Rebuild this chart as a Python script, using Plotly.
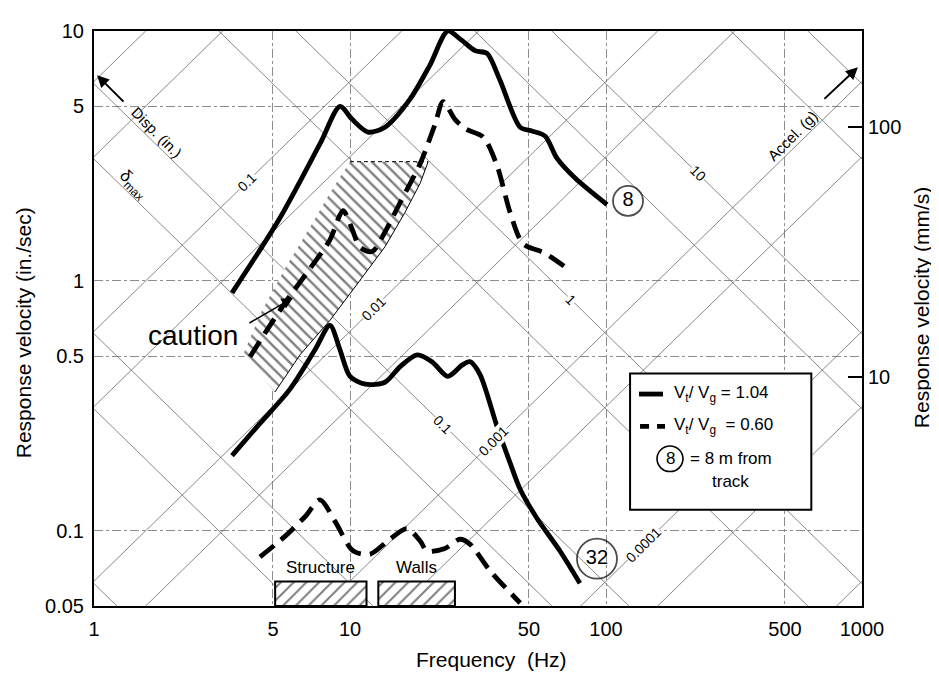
import numpy as np
import plotly.graph_objects as go

# ---------------- data ----------------
# Site 8 m from track, Vt/Vg = 1.04 (solid)
c8_solid_f = [3.46, 5.33, 7.64, 9.14, 10.2, 11.75, 13.7, 17.1, 20.5, 24.1, 26.9, 30.8, 34.3, 38.5, 46.2, 51.4, 57.8, 64.4, 75.7, 100.9]
c8_solid_v = [0.895, 1.79, 3.54, 4.99, 4.43, 3.94, 4.12, 5.31, 7.29, 10.0, 9.3, 8.34, 8.13, 6.37, 4.12, 3.98, 3.80, 3.09, 2.58, 2.02]
# Site 8 m from track, Vt/Vg = 0.60 (dashed)
c8_dash_f = [4.07, 4.87, 5.83, 6.98, 8.35, 9.39, 10.2, 10.9, 12.2, 13.7, 15.7, 18.8, 21.5, 23.1, 25.7, 28.4, 33.1, 37.5, 42.2, 47.4, 57.8, 71.5]
c8_dash_v = [0.497, 0.664, 0.871, 1.12, 1.46, 1.91, 1.61, 1.37, 1.31, 1.57, 2.06, 2.95, 4.24, 5.22, 4.43, 4.05, 3.77, 2.90, 1.88, 1.41, 1.29, 1.11]
# Site 32 m from track, Vt/Vg = 1.04 (solid)
c32_solid_f = [3.46, 4.45, 5.83, 7.3, 8.35, 9.14, 10.0, 11.5, 13.7, 15.7, 18.3, 20.9, 24.1, 27.4, 29.4, 32.2, 37.5, 42.2, 46.2, 53.8, 66.1, 79.1]
c32_solid_v = [0.20, 0.269, 0.369, 0.53, 0.664, 0.53, 0.415, 0.386, 0.393, 0.454, 0.506, 0.475, 0.415, 0.46, 0.475, 0.422, 0.262, 0.187, 0.1466, 0.112, 0.083, 0.0616]
# Site 32 m from track, Vt/Vg = 0.60 (dashed)
c32_dash_f = [4.45, 5.57, 6.67, 7.64, 8.74, 10.3, 12.0, 14.3, 16.7, 18.8, 20.0, 23.5, 26.9, 29.4, 35.2, 46.2]
c32_dash_v = [0.0786, 0.095, 0.1138, 0.133, 0.109, 0.083, 0.0807, 0.0925, 0.102, 0.091, 0.083, 0.085, 0.0925, 0.0885, 0.0693, 0.0514]

# "caution" zone outline (frequency Hz, velocity in./sec)
caution_f = [3.82, 4.53, 5.57, 6.98, 8.35, 10.0, 20.2, 18.8, 16.4, 13.7, 10.9, 8.35, 6.38, 5.09]
caution_v = [0.506, 0.76, 1.12, 1.64, 2.25, 3.0, 3.0, 2.46, 1.88, 1.37, 1.0, 0.695, 0.506, 0.359]

# natural-frequency bands
band_names = ["Structure", "Walls"]
band_f_low = [5.1, 12.9]
band_f_high = [11.6, 25.7]
band_top_v = 0.0627
band_bottom_v = 0.05

# curve tags (distance from track, m)
tag_text = ["8", "32"]
tag_f = [121.9, 92.2]
tag_v = [2.09, 0.0773]

# tripartite grid values
disp_values = [1, 0.5, 0.1, 0.05, 0.01, 0.005, 0.001, 0.0005, 0.0001, 0.00005, 0.00001]  # in.
acc_values = [100, 50, 10, 5, 1, 0.5, 0.1, 0.05, 0.01, 0.005, 0.001]  # g
disp_label_text = ["0.1", "0.01", "0.001", "0.0001"]
disp_label_f = [3.96, 12.3, 36.3, 139.6]
acc_label_text = ["10", "1", "0.1"]
acc_label_f = [228, 73.1, 23.1]
G_IN = 386.1  # in/s^2 per g

x_ticks = [1, 5, 10, 50, 100, 500, 1000]
y_ticks = [0.05, 0.1, 0.5, 1, 5, 10]
y_tick_text = ["0.05", "0.1", "0.5", "1", "5", "10"]
y2_ticks = [10, 100]

FONT = "Liberation Sans, Arial, sans-serif"


def font(size):
    return dict(size=size, family=FONT, color="black")


fig = go.Figure()

# ---- diagonal grid ----
fgrid = np.array([0.3, 5000.0])
gx, gy = [], []
for d in disp_values:
    gx += list(fgrid) + [None]
    gy += list(2 * np.pi * fgrid * d) + [None]
for a in acc_values:
    gx += list(fgrid) + [None]
    gy += list(a * G_IN / (2 * np.pi * fgrid)) + [None]
fig.add_trace(go.Scatter(x=gx, y=gy, mode="lines", line=dict(color="#6a6a6a", width=0.8),
                         hoverinfo="skip", showlegend=False))

# ---- caution zone ----
fig.add_trace(go.Scatter(x=caution_f + [caution_f[0]], y=caution_v + [caution_v[0]], mode="lines",
                         fill="toself", fillcolor="rgba(0,0,0,0)",
                         fillpattern=dict(shape="\\", fgcolor="black", bgcolor="white", size=8, solidity=0.3),
                         line=dict(width=0), hoverinfo="skip", showlegend=False))
fig.add_trace(go.Scatter(x=caution_f[5:7], y=caution_v[5:7], mode="lines",
                         line=dict(color="black", width=1, dash="4px,3px"), hoverinfo="skip", showlegend=False))
fig.add_trace(go.Scatter(x=caution_f[6:], y=caution_v[6:], mode="lines",
                         line=dict(color="black", width=1), hoverinfo="skip", showlegend=False))

# ---- frequency bands ----
for name, f0, f1 in zip(band_names, band_f_low, band_f_high):
    fig.add_trace(go.Scatter(x=[f0, f1, f1, f0, f0],
                             y=[band_bottom_v, band_bottom_v, band_top_v, band_top_v, band_bottom_v],
                             mode="lines", fill="toself", fillcolor="rgba(0,0,0,0)",
                             fillpattern=dict(shape="/", fgcolor="black", bgcolor="white", size=9, solidity=0.22),
                             line=dict(color="black", width=2), hoverinfo="skip", showlegend=False,
                             cliponaxis=False))
    fig.add_annotation(x=np.log10(np.sqrt(f0 * f1)), y=np.log10(band_top_v), yshift=14,
                       text=name, showarrow=False, font=font(17))

# ---- response curves ----
for fx, vy, dash in [(c8_solid_f, c8_solid_v, "solid"), (c8_dash_f, c8_dash_v, "18px,9px"),
                     (c32_solid_f, c32_solid_v, "solid"), (c32_dash_f, c32_dash_v, "18px,9px")]:
    fig.add_trace(go.Scatter(x=fx, y=vy, mode="lines",
                             line=dict(color="black", width=4.8, dash=dash, shape="spline", smoothing=0.8),
                             hoverinfo="skip", showlegend=False))

# ---- curve tags ----
fig.add_trace(go.Scatter(x=tag_f, y=tag_v, mode="markers+text", text=tag_text,
                         textposition="middle center", textfont=font(20),
                         marker=dict(symbol="circle-open", size=[30, 40], color="black", line=dict(width=1.8)),
                         hoverinfo="skip", showlegend=False))

# dummy trace for the right (mm/s) axis
fig.add_trace(go.Scatter(x=[None], y=[None], yaxis="y2", showlegend=False, hoverinfo="skip"))

# ---- grid labels ----
for t, f in zip(disp_label_text, disp_label_f):
    d = float(t)
    fig.add_annotation(x=np.log10(f), y=np.log10(2 * np.pi * f * d), text=t, textangle=-45,
                       showarrow=False, bgcolor="white", borderpad=0, font=font(14))
for t, f in zip(acc_label_text, acc_label_f):
    a = float(t)
    fig.add_annotation(x=np.log10(f), y=np.log10(a * G_IN / (2 * np.pi * f)), text=t, textangle=45,
                       showarrow=False, bgcolor="white", borderpad=0, font=font(14))

fig.add_annotation(x=np.log10(1.763), y=np.log10(3.94), text="Disp. (in.)", textangle=45,
                   showarrow=False, font=font(15))
fig.add_annotation(x=np.log10(1.42), y=np.log10(2.42), text="δ<sub>max</sub>", textangle=45,
                   showarrow=False, font=font(17))
fig.add_annotation(x=0.0117, y=0.8233, ax=28, ay=28, text="", showarrow=True,
                   arrowhead=2, arrowsize=1.2, arrowwidth=2, arrowcolor="black")
fig.add_annotation(x=2.730, y=0.580, text="Accel. (g)", textangle=-45,
                   showarrow=False, font=font(15))
fig.add_annotation(x=2.984, y=0.8547, ax=-35, ay=33, text="", showarrow=True,
                   arrowhead=2, arrowsize=1.2, arrowwidth=2, arrowcolor="black")
fig.add_annotation(x=0.3867, y=-0.217, text="caution", showarrow=False, font=font(28))
fig.add_annotation(x=0.777, y=-0.068, ax=-45, ay=26, text="", showarrow=True,
                   arrowhead=2, arrowsize=1.5, arrowwidth=1.5, arrowcolor="black")

# ---- legend box (paper coords) ----
fig.add_shape(type="rect", xref="paper", yref="paper", x0=0.698, x1=0.934, y0=0.1672, y1=0.4044,
              line=dict(color="black", width=2), fillcolor="white", layer="above")
fig.add_shape(type="line", xref="paper", yref="paper", x0=0.7096, x1=0.7409, y0=0.3686, y1=0.3686,
              line=dict(color="black", width=4.8), layer="above")
fig.add_shape(type="line", xref="paper", yref="paper", x0=0.711, x1=0.7435, y0=0.3123, y1=0.3123,
              line=dict(color="black", width=4.8, dash="9px,8px"), layer="above")
fig.add_shape(type="circle", xref="paper", yref="paper", x0=0.75 - 0.0169, x1=0.75 + 0.0169,
              y0=0.256 - 0.0222, y1=0.256 + 0.0222, line=dict(color="black", width=1.6), layer="above")
fig.add_annotation(xref="paper", yref="paper", x=0.75, y=0.256, xanchor="center", yanchor="middle",
                   text="8", showarrow=False, font=font(17))
fig.add_annotation(xref="paper", yref="paper", x=0.7526, y=0.3686, xanchor="left", yanchor="middle",
                   text="V<sub>t</sub>/ V<sub>g</sub> = 1.04", showarrow=False, font=font(17))
fig.add_annotation(xref="paper", yref="paper", x=0.7526, y=0.3123, xanchor="left", yanchor="middle",
                   text="V<sub>t</sub>/ V<sub>g</sub>  = 0.60", showarrow=False, font=font(17))
fig.add_annotation(xref="paper", yref="paper", x=0.7734, y=0.256, xanchor="left", yanchor="middle",
                   text="= 8 m from", showarrow=False, font=font(17))
fig.add_annotation(xref="paper", yref="paper", x=0.8294, y=0.2167, xanchor="center", yanchor="middle",
                   text="track", showarrow=False, font=font(17))

# ---- axis titles (placed as annotations) ----
fig.add_annotation(xref="paper", yref="paper", x=-0.0924, y=0.4744, xanchor="center", yanchor="middle",
                   text="Response velocity (in./sec)", textangle=-90, showarrow=False, font=font(21))
fig.add_annotation(xref="paper", yref="paper", x=1.0775, y=0.5188, xanchor="center", yanchor="middle",
                   text="Response velocity (mm/s)", textangle=-90, showarrow=False, font=font(21))
fig.add_annotation(xref="paper", yref="paper", x=0.517, y=-0.0922, xanchor="center", yanchor="middle",
                   text="Frequency  (Hz)", showarrow=False, font=font(21))

axis_common = dict(showline=True, linecolor="black", linewidth=2, mirror=True, zeroline=False,
                   tickfont=font(20))

fig.update_layout(
    width=931, height=665,
    margin=dict(l=86, r=77, t=12, b=67),
    paper_bgcolor="white", plot_bgcolor="white",
    showlegend=False,
    xaxis=dict(type="log", range=[0, 3], tickvals=x_ticks, ticktext=[str(v) for v in x_ticks],
               showgrid=True, gridcolor="#8c8c8c", gridwidth=1, griddash="dashdot",
               ticks="", ticklabelstandoff=4, **axis_common),
    yaxis=dict(type="log", range=[np.log10(0.05), 1], tickvals=y_ticks, ticktext=y_tick_text,
               showgrid=True, gridcolor="#8c8c8c", gridwidth=1, griddash="dashdot",
               ticks="", ticklabelstandoff=4, **axis_common),
    yaxis2=dict(type="log", range=[0.086, 2.384], overlaying="y", side="right", anchor="x",
                tickvals=y2_ticks, ticktext=["10", "100"], showgrid=False, zeroline=False,
                showline=True, linecolor="black", linewidth=2,
                ticks="inside", ticklen=14, tickwidth=2, tickcolor="black",
                tickfont=font(20)),
)

fig.write_html("out.html")
